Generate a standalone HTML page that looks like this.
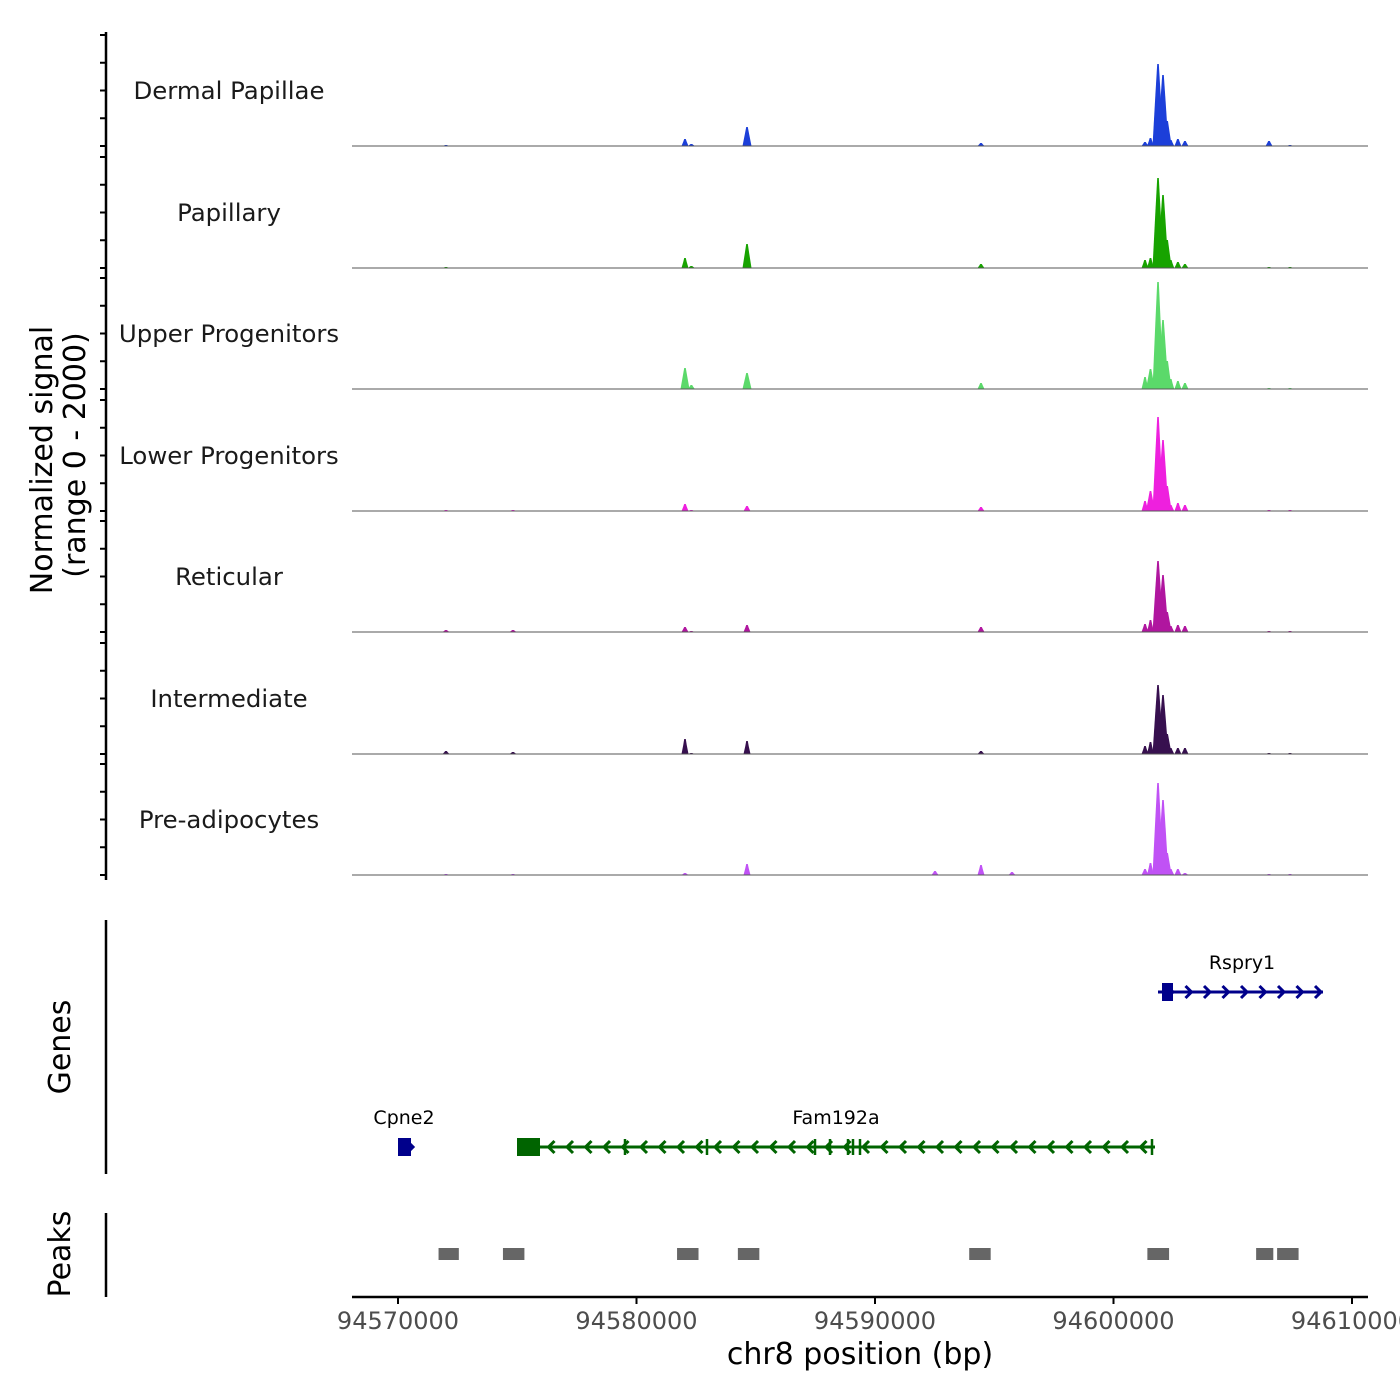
<!DOCTYPE html>
<html><head><meta charset="utf-8"><style>
body{margin:0;background:#fff}
svg{display:block;font-family:"DejaVu Sans","Liberation Sans",sans-serif}
</style></head><body>
<svg id="c" width="1400" height="1400" viewBox="0 0 1400 1400"></svg>
<script>
const trackNames=["Dermal Papillae","Papillary","Upper Progenitors","Lower Progenitors","Reticular","Intermediate","Pre-adipocytes"];
const trackColors=["#1c3fd9","#17a300","#5bd96a","#ee20de","#b0169f","#37104f","#c052f5"];
const peakPos=[94572012,94574821,94582033,94582300,94584633,94592516,94594444,94595744,94601321,94601550,94601866,94602075,94602250,94602400,94602700,94602996,94606520,94607400];
const sigDermal=[1,0,7,2,19,0,3,0,4,8,82,71,25,6,7,5,5,1];
const sigPapillary=[1,0,10,2,24,0,4,0,8,10,90,73,28,8,6,4,1,1];
const sigUpper=[0,0,21,4,16,0,6,0,12,20,107,69,28,10,8,6,1,1];
const sigLower=[1,1,7,1,5,0,4,0,10,20,94,71,25,6,8,6,1,1];
const sigReticular=[2,2,5,1,7,0,5,0,8,12,71,57,20,6,7,6,1,1];
const sigIntermediate=[3,2,15,1,13,0,3,0,8,12,69,59,20,6,6,6,1,1];
const sigPreadipo=[1,1,2,0,11,4,10,3,6,12,92,75,22,6,6,2,1,1];
const signals=[sigDermal,sigPapillary,sigUpper,sigLower,sigReticular,sigIntermediate,sigPreadipo];
const xTicks=[94570000,94580000,94590000,94600000,94610000];
const peakStarts=[94571700,94574400,94581700,94584250,94593950,94601420,94605980,94606860];
const peakEnds=[94572550,94575300,94582600,94585150,94594850,94602330,94606700,94607760];

const S="http://www.w3.org/2000/svg",svg=document.getElementById('c');
function el(t,a,p){const e=document.createElementNS(S,t);for(const k in a)e.setAttribute(k,a[k]);(p||svg).appendChild(e);return e;}
const X0=94568071,PX=0.02385;
function xs(bp){return 352+(bp-X0)*PX;}
const base=[146,268,389,511,632,754,875];

let ax=el('line',{x1:106,y1:32,x2:106,y2:880,stroke:'#000','stroke-width':2.5});

base.forEach((b,i)=>{for(let k=0;k<5;k++){const y=b-111+k*27.75;const t=el('line',{x1:100,y1:y,x2:106,y2:y,stroke:'#000','stroke-width':2});}});
base.forEach((b,i)=>{
  const g=el('g',{});
  const lb=el('text',{x:229,y:b-47,'text-anchor':'middle','font-size':24.4,fill:'#1a1a1a'},g);lb.textContent=trackNames[i];
  
  signals[i].forEach((v,j)=>{if(v<=0)return;const x=xs(peakPos[j]);const w=v>50?5.5:(v>15?4.5:3.5);
    const p=el('path',{d:`M${x-w},${b} L${x-w*0.5},${b-v*0.6} L${x-0.8},${b-v} L${x+0.8},${b-v} L${x+w*0.5},${b-v*0.6} L${x+w},${b} Z`,fill:trackColors[i]},g);
    });
  el('line',{x1:352,y1:b,x2:1368,y2:b,stroke:'#555','stroke-width':1},g);
});
let t=el('text',{transform:'translate(52,460) rotate(-90)','text-anchor':'middle','font-size':30,fill:'#000'});t.textContent='Normalized signal';

t=el('text',{transform:'translate(85,455) rotate(-90)','text-anchor':'middle','font-size':30,fill:'#000'});t.textContent='(range 0 - 2000)';


el('line',{x1:106,y1:920,x2:106,y2:1174,stroke:'#000','stroke-width':2.5});
t=el('text',{transform:'translate(70,1047) rotate(-90)','text-anchor':'middle','font-size':30});t.textContent='Genes';

function gene(name,x1,x2,y,col,dir,boxes,ticks,lx){
  const g=el('g',{});
  el('line',{x1:x1,y1:y,x2:x2,y2:y,stroke:col,'stroke-width':3},g);
  for(let x=x1+14;x<=x2+1;x+=18.5){const d=dir>0?`M${x-5},${y-6} L${x+1},${y} L${x-5},${y+6}`:`M${x+5},${y-6} L${x-1},${y} L${x+5},${y+6}`;el('path',{d:d,stroke:col,'stroke-width':3,fill:'none'},g);}
  boxes.forEach(b=>el('rect',{x:b[0],y:y-9,width:b[1]-b[0],height:18,fill:col},g));
  ticks.forEach(x=>el('line',{x1:x,y1:y-8,x2:x,y2:y+8,stroke:col,'stroke-width':2.5},g));
  const l=el('text',{x:lx,y:y-23,'text-anchor':'middle','font-size':19,fill:'#000'},g);l.textContent=name;
}
gene('Rspry1',1158,1323,992,'#00008b',1,[[1162,1173]],[],1242);
gene('Cpne2',398,411,1147,'#00008b',1,[[398,411]],[],404);
gene('Fam192a',517,1155,1147,'#006400',-1,[[517,540]],[625,707,815,830,848,853,860,1152],836);

el('line',{x1:106,y1:1213,x2:106,y2:1297,stroke:'#000','stroke-width':2.5});
t=el('text',{transform:'translate(70,1254) rotate(-90)','text-anchor':'middle','font-size':30});t.textContent='Peaks';

peakStarts.forEach((s,i)=>{const r=el('rect',{x:xs(s),y:1248,width:xs(peakEnds[i])-xs(s),height:12,fill:'#666'});});

const xa=el('line',{x1:352,y1:1297,x2:1368,y2:1297,stroke:'#000','stroke-width':2.5});

xTicks.forEach(v=>{const x=xs(v);el('line',{x1:x,y1:1297,x2:x,y2:1304,stroke:'#000','stroke-width':2});
  const l=el('text',{x:x,y:1329,'text-anchor':'middle','font-size':24,fill:'#4d4d4d'});l.textContent=v;
  });
t=el('text',{x:860,y:1364,'text-anchor':'middle','font-size':30});t.textContent='chr8 position (bp)';

</script>
</body></html>
